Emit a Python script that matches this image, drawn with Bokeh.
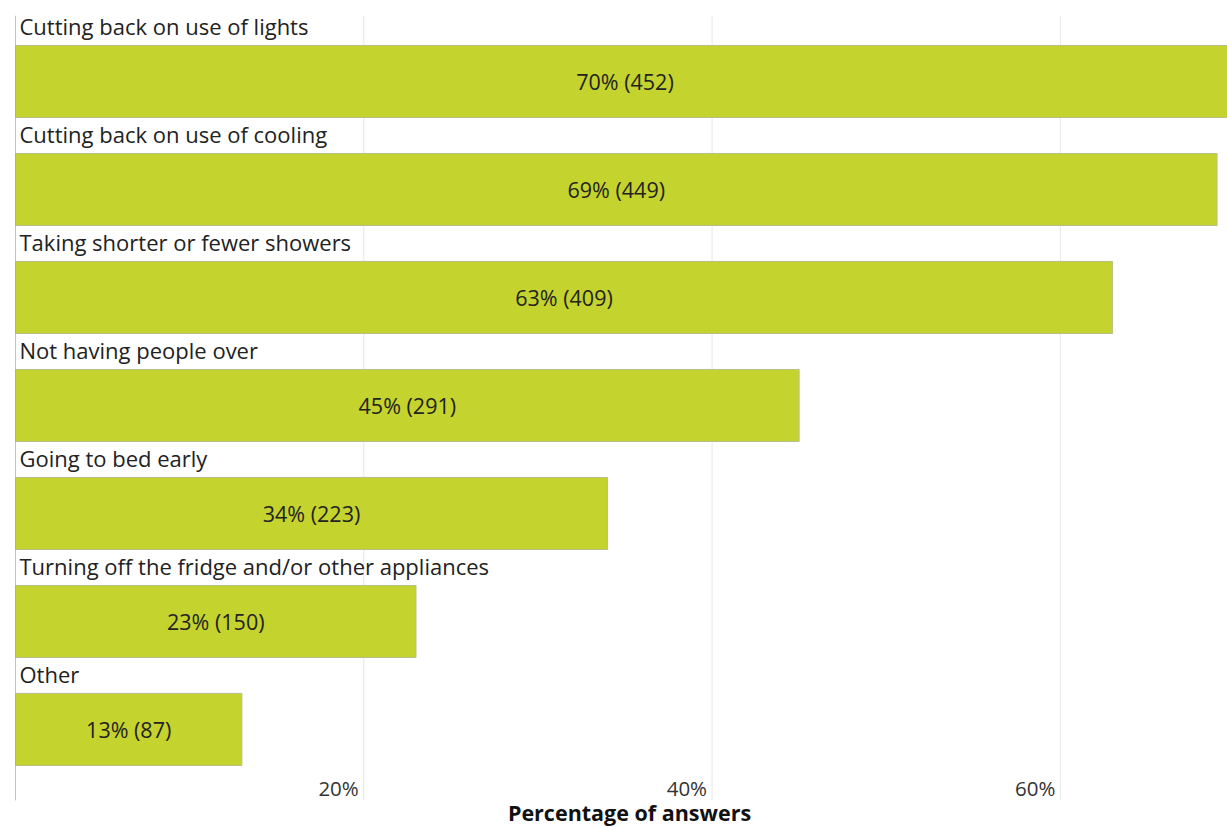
from bokeh.plotting import figure
from bokeh.models import ColumnDataSource, Range1d
from bokeh.core.properties import value
from bokeh.embed import file_html
from bokeh.resources import INLINE

categories = [
    "Cutting back on use of lights",
    "Cutting back on use of cooling",
    "Taking shorter or fewer showers",
    "Not having people over",
    "Going to bed early",
    "Turning off the fridge and/or other appliances",
    "Other",
]
percents = [70, 69, 63, 45, 34, 23, 13]
counts = [452, 449, 409, 291, 223, 150, 87]
tick_values = [20, 40, 60]
tick_labels = ["20%", "40%", "60%"]
axis_title = "Percentage of answers"

FONT = "Open Sans"
BAR = "#C5D32E"

X_MAX = 69.6
Y_TOP = -0.611
Y_BOT = 6.917
GRID_BOT = 6.657
TICK_Y = 6.546
TITLE_Y = 6.77

idx = list(range(len(categories)))
src = ColumnDataSource(dict(
    y=idx,
    right=percents,
    half=[v / 2 for v in percents],
    label_y=[i - 0.51 for i in idx],
    cat=categories,
    txt=[f"{p}% ({c})" for p, c in zip(percents, counts)],
))

p = figure(width=1227, height=828, output_backend="svg", toolbar_location=None,
           x_range=Range1d(0, X_MAX), y_range=Range1d(Y_BOT, Y_TOP),
           min_border_left=15, min_border_right=0, min_border_top=15, min_border_bottom=0)
p.outline_line_color = None
p.background_fill_color = "white"
p.border_fill_color = "white"
p.xaxis.visible = False
p.yaxis.visible = False
p.xgrid.grid_line_color = None
p.ygrid.grid_line_color = None

# gridlines
p.segment(x0=tick_values, y0=[Y_TOP] * len(tick_values),
          x1=tick_values, y1=[GRID_BOT] * len(tick_values),
          line_color="#e6e6e6", line_width=1)

p.hbar(y="y", left=0, right="right", height=0.667, source=src,
       fill_color=BAR, line_color="#b9bf8a", line_width=1)

p.text(x=0, y="label_y", text="cat", source=src, x_offset=4,
       text_font=value(FONT), text_font_size="22px", text_color="#222222",
       text_align="left", text_baseline="middle")

p.text(x="half", y="y", text="txt", source=src,
       text_font=value(FONT), text_font_size="21.5px", text_color="#222222",
       text_align="center", text_baseline="middle")

tick_src = ColumnDataSource(dict(x=tick_values, t=tick_labels,
                                 y=[TICK_Y] * len(tick_values)))
p.text(x="x", y="y", text="t", source=tick_src, x_offset=-5,
       text_font=value(FONT), text_font_size="20.5px", text_color="#333333",
       text_align="right", text_baseline="middle")

p.text(x=[X_MAX / 2], y=[TITLE_Y], text=[axis_title], x_offset=8,
       text_font=value(FONT), text_font_size="21.5px", text_font_style="bold",
       text_color="#111111", text_align="center", text_baseline="middle")

# axis line
p.segment(x0=[0], y0=[Y_TOP], x1=[0], y1=[GRID_BOT], line_color="#888888", line_width=1)

open("out.html", "w").write(file_html(p, INLINE))
